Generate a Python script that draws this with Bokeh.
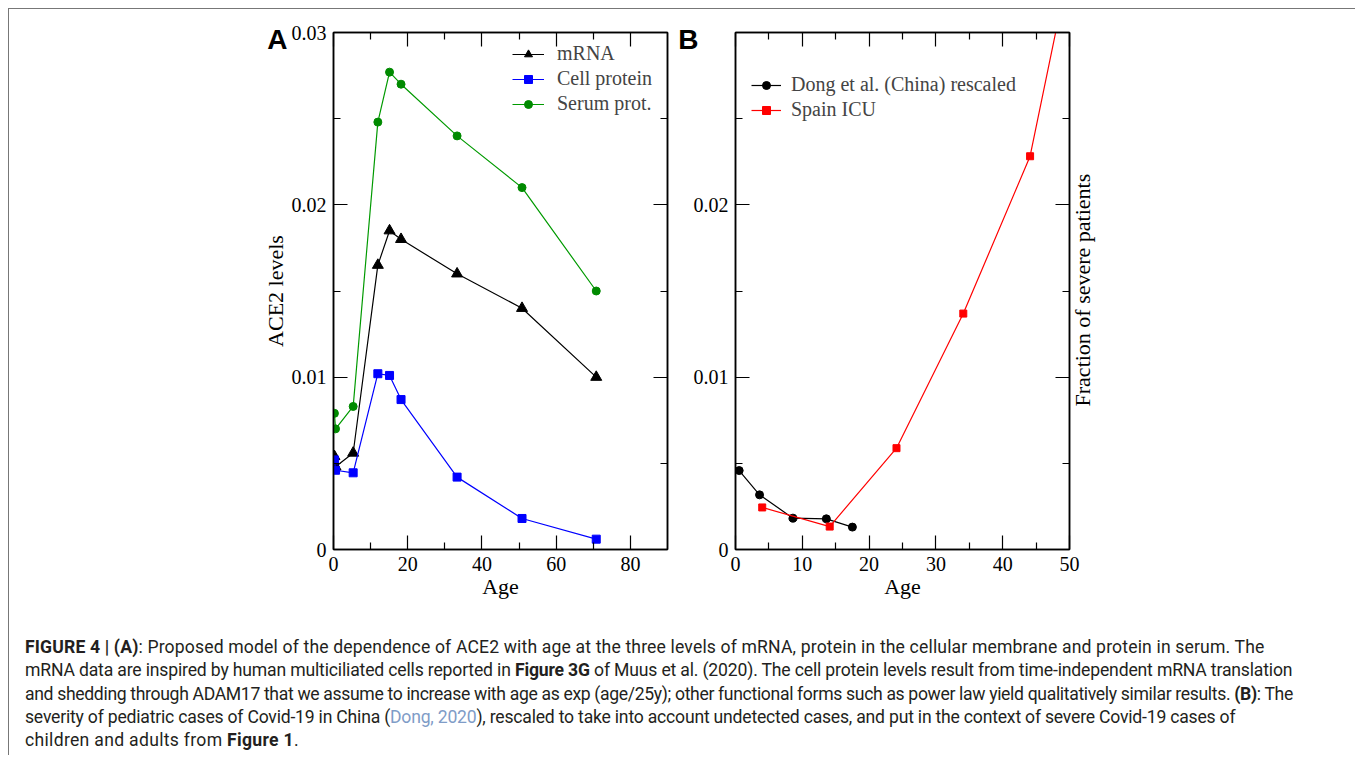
import math
from bokeh.plotting import figure
from bokeh.models import (LinearAxis, FixedTicker, CustomJSTickFormatter, Legend, LegendItem,
                          Div, Range1d)
from bokeh.layouts import row, column
from bokeh.embed import file_html
from bokeh.resources import INLINE

# ---------------- data ----------------
# Panel A: ACE2 levels vs age
age_a = [0.25, 0.55, 5.3, 11.95, 15.1, 18.2, 33.3, 50.8, 70.8]
mrna = [0.0054, 0.0048, 0.0056, 0.0165, 0.0185, 0.0180, 0.0160, 0.0140, 0.0100]
cell_protein = [0.0052, 0.0046, 0.00445, 0.0102, 0.0101, 0.0087, 0.0042, 0.0018, 0.0006]
serum_prot = [0.0079, 0.0070, 0.0083, 0.0248, 0.0277, 0.0270, 0.0240, 0.0210, 0.0150]

# Panel B: fraction of severe patients vs age
dong_age = [0.55, 3.6, 8.6, 13.6, 17.5]
dong_val = [0.00458, 0.00317, 0.00182, 0.00178, 0.00130]
spain_age = [4.0, 14.1, 24.1, 34.1, 44.1, 54.1]
spain_val = [0.00244, 0.00133, 0.00588, 0.01369, 0.02282, 0.0416]

# ticks
a_x_major = [0, 20, 40, 60, 80]
a_x_minor = [10, 30, 50, 70]
b_x_major = [0, 10, 20, 30, 40, 50]
b_x_minor = [5, 15, 25, 35, 45]
a_y_major = [0, 0.01, 0.02, 0.03]
b_y_major = [0, 0.01, 0.02]
y_minor = [0.005, 0.015, 0.025]
panel_tag_pos = 0.0296
right_title_start = 0.0083   # where the rotated right-hand title begins (it reads upward)

caption_lines = [
    "<b>FIGURE 4 | (A)</b>: Proposed model of the dependence of ACE2 with age at the three levels of mRNA, protein in the cellular membrane and protein in serum. The",
    "mRNA data are inspired by human multiciliated cells reported in <b>Figure 3G</b> of Muus et al. (2020). The cell protein levels result from time-independent mRNA translation",
    "and shedding through ADAM17 that we assume to increase with age as exp (age/25y); other functional forms such as power law yield qualitatively similar results. <b>(B)</b>: The",
    "severity of pediatric cases of Covid-19 in China (<span style=\"color:#7f9cc7\">Dong, 2020</span>), rescaled to take into account undetected cases, and put in the context of severe Covid-19 cases of",
    "children and adults from <b>Figure 1</b>.",
]
caption_spacing = [0.15, -0.17, -0.34, -0.21, 0.3]

SERIF = "Liberation Serif"
num_fmt = CustomJSTickFormatter(code="return String(tick);")
blank_fmt = CustomJSTickFormatter(code="return '';")


def style_axis(ax, major, minor, labels=True):
    ax.ticker = FixedTicker(ticks=major, minor_ticks=minor)
    ax.major_tick_in = 14
    ax.major_tick_out = 0
    ax.minor_tick_in = 7
    ax.minor_tick_out = 0
    ax.axis_line_color = "black"
    ax.axis_line_width = 1.5
    ax.major_tick_line_color = "black"
    ax.major_tick_line_width = 1.2
    ax.minor_tick_line_color = "black"
    ax.minor_tick_line_width = 1.2
    ax.major_label_text_font = SERIF
    ax.major_label_text_font_size = "20px"
    ax.major_label_text_color = "black"
    ax.axis_label_text_font = SERIF
    ax.axis_label_text_font_size = "22px"
    ax.axis_label_text_font_style = "normal"
    ax.axis_label_text_color = "black"
    if labels:
        ax.formatter = num_fmt
    else:
        ax.formatter = blank_fmt
        ax.major_label_standoff = 0


def text_axis(text, pos, standoff, font, size, bold=False, orientation=None):
    ax = LinearAxis(ticker=FixedTicker(ticks=[pos], minor_ticks=[]),
                    formatter=CustomJSTickFormatter(code="return '%s';" % text))
    ax.axis_line_color = None
    ax.major_tick_line_color = None
    ax.minor_tick_line_color = None
    ax.major_tick_in = 0
    ax.major_tick_out = 0
    ax.major_label_standoff = standoff
    ax.major_label_text_font = font
    ax.major_label_text_font_style = "bold" if bold else "normal"
    ax.major_label_text_font_size = size
    ax.major_label_text_color = "black"
    if orientation is not None:
        ax.major_label_orientation = orientation
    return ax


def make_fig(xr, border_left, border_right):
    p = figure(frame_width=334, frame_height=517, x_range=Range1d(*xr), y_range=Range1d(0, 0.03),
               output_backend="svg", toolbar_location=None,
               min_border_left=border_left, min_border_right=border_right,
               min_border_top=23, min_border_bottom=71,
               background_fill_color="white", border_fill_color="white")
    p.grid.visible = False
    p.outline_line_color = "black"
    p.outline_line_width = 1.5
    return p


# ---------------- Panel A ----------------
pA = make_fig((0, 90), 324, 8)
style_axis(pA.xaxis[0], a_x_major, a_x_minor)
style_axis(pA.yaxis[0], a_y_major, y_minor)
pA.xaxis[0].axis_label = "Age"
pA.yaxis[0].axis_label = "ACE2 levels"
pA.xaxis[0].major_label_standoff = 7
pA.xaxis[0].axis_label_standoff = 0
pA.yaxis[0].major_label_standoff = 7
pA.yaxis[0].axis_label_standoff = 1
topA = LinearAxis(); style_axis(topA, a_x_major, a_x_minor, labels=False)
rightA = LinearAxis(); style_axis(rightA, a_y_major, y_minor, labels=False)
pA.add_layout(topA, "above")
pA.add_layout(rightA, "right")
pA.add_layout(text_axis("A", panel_tag_pos, -28, "Liberation Sans", "28px", bold=True), "left")

GREEN = "#009a00"
l1 = pA.line(age_a, mrna, line_color="black", line_width=1.2)
s1 = pA.scatter(age_a, mrna, marker="triangle", size=11, fill_color="black", line_color="black")
l2 = pA.line(age_a, cell_protein, line_color="#0000ff", line_width=1.2)
s2 = pA.scatter(age_a, cell_protein, marker="square", size=8, fill_color="#0000ff", line_color="#0000ff")
l3 = pA.line(age_a, serum_prot, line_color=GREEN, line_width=1.2)
s3 = pA.scatter(age_a, serum_prot, marker="circle", size=8, fill_color="#008a00", line_color="#008a00")

legA = Legend(items=[LegendItem(label="mRNA", renderers=[l1, s1]),
                     LegendItem(label="Cell protein", renderers=[l2, s2]),
                     LegendItem(label="Serum prot.", renderers=[l3, s3])],
              location=(179, 434), glyph_width=32, glyph_height=20, label_height=20,
              label_standoff=13, spacing=2, padding=0, margin=0,
              label_text_font=SERIF, label_text_font_size="20px",
              border_line_color=None, background_fill_alpha=0)
pA.add_layout(legA)

# ---------------- Panel B ----------------
pB = make_fig((0, 50), 54, 287)
style_axis(pB.xaxis[0], b_x_major, b_x_minor)
style_axis(pB.yaxis[0], b_y_major, y_minor)
pB.xaxis[0].axis_label = "Age"
pB.xaxis[0].major_label_standoff = 7
pB.xaxis[0].axis_label_standoff = 0
pB.yaxis[0].major_label_standoff = 7
topB = LinearAxis(); style_axis(topB, b_x_major, b_x_minor, labels=False)
rightB = LinearAxis(); style_axis(rightB, b_y_major, y_minor, labels=False)
pB.add_layout(topB, "above")
pB.add_layout(rightB, "right")
pB.add_layout(text_axis("Fraction of severe patients", right_title_start, 13, SERIF, "22px",
                        orientation=math.pi / 2), "right")
pB.add_layout(text_axis("B", panel_tag_pos, -8, "Liberation Sans", "28px", bold=True), "left")

d1 = pB.line(dong_age, dong_val, line_color="black", line_width=1.2)
d2 = pB.scatter(dong_age, dong_val, marker="circle", size=8, fill_color="black", line_color="black")
r1 = pB.line(spain_age, spain_val, line_color="#ff0000", line_width=1.2)
r2 = pB.scatter(spain_age, spain_val, marker="square", size=7, fill_color="#ff0000", line_color="#ff0000")

legB = Legend(items=[LegendItem(label="Dong et al. (China) rescaled", renderers=[d1, d2]),
                     LegendItem(label="Spain ICU", renderers=[r1, r2])],
              location=(16, 428), glyph_width=30, glyph_height=20, label_height=20,
              label_standoff=10, spacing=2, padding=0, margin=0,
              label_text_font=SERIF, label_text_font_size="20px",
              border_line_color=None, background_fill_alpha=0)
pB.add_layout(legB)

# ---------------- caption ----------------
cap_body = "<br>".join('<span style="letter-spacing:%.2fpx">%s</span>' % (ls, t)
                       for ls, t in zip(caption_spacing, caption_lines))
cap_html = ('<div style="font-family: Roboto, \'Liberation Sans\', sans-serif; font-size:17.6px; '
            'line-height:23.3px; color:#231f20; white-space:nowrap; padding:11px 0 0 11px;">'
            + cap_body + "</div>")
cap = Div(text=cap_html, width=1345, height=125)

layout = column(row(pA, pB), cap,
                styles={"margin": "8px 0 0 8px", "border-top": "1px solid #777",
                        "border-left": "1px solid #777", "border-right": "1px solid #777"})

open("out.html", "w").write(file_html(layout, INLINE))
